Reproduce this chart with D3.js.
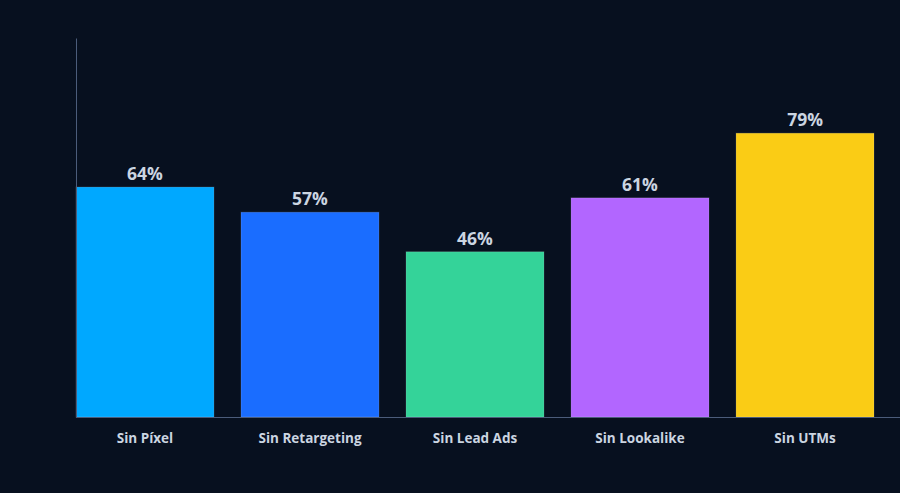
<!DOCTYPE html>
<html><head><meta charset="utf-8">
<script src="https://cdn.jsdelivr.net/npm/d3@7"></script>
<style>
html,body{margin:0;padding:0;background:#07101f;}
svg{display:block;}
</style></head>
<body>
<svg id="chart" width="900" height="493"></svg>
<script>
const categories = ["Sin Píxel", "Sin Retargeting", "Sin Lead Ads", "Sin Lookalike", "Sin UTMs"];
const values = [64, 57, 46, 61, 79];
const colors = ["#00a8ff", "#1a6dff", "#34d399", "#b266ff", "#facc15"];

const svg = d3.select("#chart");
svg.append("rect").attr("width", 900).attr("height", 493).attr("fill", "#07101f");

const x = d3.scaleBand().domain(categories).range([76, 874]).paddingInner(0.164).paddingOuter(0);
const y = d3.scaleLinear().domain([0, 105.5]).range([417, 38]);

const g = svg.append("g");
g.selectAll("rect.bar").data(values).join("rect")
  .attr("class", "bar")
  .attr("x", (d, i) => x(categories[i]))
  .attr("y", d => y(d))
  .attr("width", x.bandwidth())
  .attr("height", d => y(0) - y(d))
  .attr("fill", (d, i) => colors[i])
  .attr("stroke", "rgba(255,255,255,0.15)")
  .attr("stroke-width", 1);

g.selectAll("text.val").data(values).join("text")
  .attr("class", "val")
  .attr("x", (d, i) => x(categories[i]) + x.bandwidth() / 2)
  .attr("y", d => y(d) - 7)
  .attr("text-anchor", "middle")
  .attr("fill", "#cbd5e1")
  .attr("font-family", "'Open Sans', 'Noto Sans', sans-serif")
  .attr("font-weight", "bold")
  .attr("font-size", 17.5)
  .text(d => d + "%");

// x axis
const xAxis = svg.append("g").attr("transform", "translate(0,417)")
  .call(d3.axisBottom(x).tickSize(0).tickPadding(16));
xAxis.select(".domain").attr("stroke", "#4b5c7a").attr("d", "M76,0.5H901");
xAxis.selectAll("text")
  .attr("fill", "#cbd5e1")
  .attr("font-family", "'Open Sans', 'Noto Sans', sans-serif")
  .attr("font-weight", "bold")
  .attr("font-size", 13.5);

// y axis (line only)
const yAxis = svg.append("g").attr("transform", "translate(76,0)")
  .call(d3.axisLeft(y).tickValues([]).tickSizeOuter(0));
yAxis.select(".domain").attr("stroke", "#4b5c7a");
</script>
</body></html>
